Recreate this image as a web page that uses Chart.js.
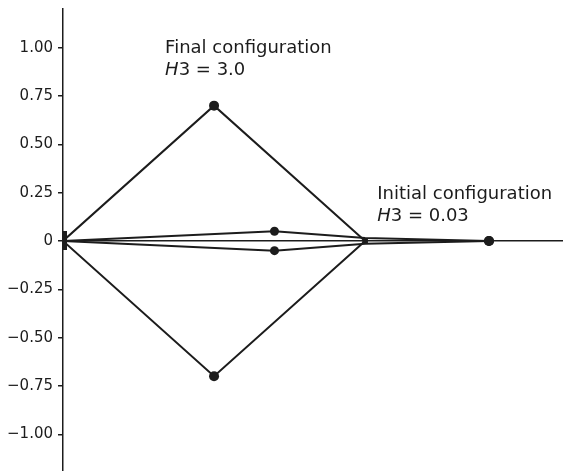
<!DOCTYPE html>
<html>
<head>
<meta charset="utf-8">
<script src="https://cdn.jsdelivr.net/npm/chart.js@4"></script>
<style>
  html, body { margin: 0; padding: 0; background: #fff; }
  #wrap { width: 563px; height: 471px; }
</style>
</head>
<body>
<div id="wrap"><canvas id="chart" width="563" height="471"></canvas></div>
<script>
// Node positions (x in span units, y as plotted)
const finalX = [0, 0.5, 1.0, 0.5, 0];
const finalY = [0, 0.70, 0, -0.70, 0];
const initX = [0, 0.70, 1.0, 1.41];
const initUpperY = [0, 0.05, 0.015, 0];
const initLowerY = [0, -0.05, -0.015, 0];
const yTicks = [1.00, 0.75, 0.50, 0.25, 0, -0.25, -0.50, -0.75, -1.00];
const xRange = [0, 1.655];
const yRange = [-1.19, 1.2];

// label anchors in data units
const labels = [
    { x: 0.338, y: 0.97, line1: 'Final configuration', value: '3.0' },
    { x: 1.04, y: 0.218, line1: 'Initial configuration', value: '0.03' }
];

const ink = '#1c1c1c';
const pts = (xs, ys) => xs.map((x, i) => ({ x: x, y: ys[i] }));

// support block at the origin
const support = document.createElement('canvas');
support.width = 8; support.height = 19;
const sctx = support.getContext('2d');
sctx.fillStyle = ink;
sctx.fillRect(0, 0, 8, 19);

const labelPlugin = {
    id: 'configLabels',
    afterDraw(chart) {
        const ctx = chart.ctx;
        const sx = chart.scales.x, sy = chart.scales.y;
        ctx.save();
        ctx.fillStyle = ink;
        ctx.textBaseline = 'alphabetic';
        labels.forEach((l) => {
            const px = sx.getPixelForValue(l.x);
            const py = sy.getPixelForValue(l.y);
            ctx.font = '18px "DejaVu Sans"';
            ctx.fillText(l.line1, px, py);
            ctx.font = 'italic 18px "DejaVu Sans"';
            ctx.fillText('H', px, py + 22);
            const w = ctx.measureText('H').width;
            ctx.font = '18px "DejaVu Sans"';
            ctx.fillText('3 = ' + l.value, px + w, py + 22);
        });
        ctx.restore();
    }
};

new Chart(document.getElementById('chart'), {
    type: 'scatter',
    data: {
        datasets: [
            {
                data: pts(finalX, finalY),
                showLine: true,
                borderColor: ink,
                borderWidth: 2,
                pointRadius: [0, 5, 0, 5, 0],
                pointBackgroundColor: ink,
                pointBorderWidth: 0
            },
            {
                data: pts(initX, initUpperY),
                showLine: true,
                borderColor: ink,
                borderWidth: 2,
                pointRadius: [0, 4.5, 0, 5],
                pointBackgroundColor: ink,
                pointBorderWidth: 0
            },
            {
                data: pts(initX, initLowerY),
                showLine: true,
                borderColor: ink,
                borderWidth: 2,
                pointRadius: [0, 4.5, 0, 5],
                pointBackgroundColor: ink,
                pointBorderWidth: 0
            },
            {
                data: [{ x: finalX[2], y: finalY[2] }],
                pointStyle: 'rect',
                pointRadius: 4,
                pointBackgroundColor: ink,
                pointBorderWidth: 0
            },
            {
                data: [{ x: finalX[0], y: finalY[0] }],
                pointStyle: support,
                pointBorderWidth: 0
            }
        ]
    },
    options: {
        responsive: false,
        animation: false,
        layout: { autoPadding: false, padding: { top: 9, right: 0, bottom: 0, left: 0 } },
        plugins: {
            legend: { display: false },
            tooltip: { enabled: false }
        },
        scales: {
            x: {
                type: 'linear',
                display: false,
                min: xRange[0],
                max: xRange[1]
            },
            y: {
                type: 'linear',
                min: yRange[0],
                max: yRange[1],
                afterBuildTicks: (scale) => {
                    scale.ticks = yTicks.map(v => ({ value: v }));
                },
                afterFit: (scale) => {
                    scale.width = 63;
                    scale.paddingTop = 0;
                    scale.paddingBottom = 0;
                },
                border: { display: true, color: ink, width: 1.5 },
                grid: {
                    drawOnChartArea: true,
                    drawTicks: true,
                    tickLength: 5,
                    lineWidth: 1.5,
                    color: (c) => (c.tick && c.tick.value === 0 ? ink : 'rgba(0,0,0,0)'),
                    tickColor: ink
                },
                ticks: {
                    padding: 5,
                    color: ink,
                    font: { family: '"DejaVu Sans"', size: 15 },
                    callback: (v) => {
                        if (v === 0) return '0';
                        return (v < 0 ? '\u2212' : '') + Math.abs(v).toFixed(2);
                    }
                }
            }
        }
    },
    plugins: [labelPlugin]
});
</script>
</body>
</html>
